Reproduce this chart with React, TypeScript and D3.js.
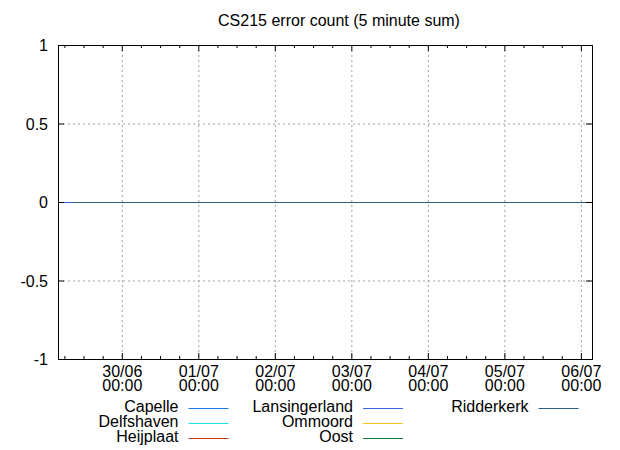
import { useMemo } from 'react';
import * as d3 from 'd3';

const title = 'CS215 error count (5 minute sum)';

const seriesNames = ['Capelle', 'Delfshaven', 'Heijplaat', 'Lansingerland', 'Ommoord', 'Oost', 'Ridderkerk'];
const seriesColors = ['#1a78e0', '#20e0f0', '#c04010', '#3a64e0', '#f8c020', '#108040', '#2e6088'];
const seriesStart = ['2024-06-29T08:30Z', '2024-06-29T08:30Z', '2024-06-29T08:30Z', '2024-06-29T03:50Z', '2024-06-29T08:30Z', '2024-06-29T08:30Z', '2024-06-29T08:30Z'];
const seriesEnd = ['2024-07-06T03:20Z', '2024-07-06T03:20Z', '2024-07-06T03:20Z', '2024-07-06T03:20Z', '2024-07-06T03:20Z', '2024-07-06T03:20Z', '2024-07-06T03:20Z'];
const seriesValues = [[0, 0], [0, 0], [0, 0], [0, 0], [0, 0], [0, 0], [0, 0]];

const xDomain = ['2024-06-29T03:50Z', '2024-07-06T03:20Z'];
const yDomain = [-1, 1];
const yTicks = [-1, -0.5, 0, 0.5, 1];

const W = 620;
const H = 450;
const margin = { top: 45, right: 28, bottom: 91, left: 58 };
const font = '"Liberation Sans", Arial, sans-serif';
const fs = 16;

export default function App() {
  const innerW = W - margin.left - margin.right;
  const innerH = H - margin.top - margin.bottom;

  const x = useMemo(
    () => d3.scaleUtc().domain(xDomain.map(d => new Date(d))).range([0, innerW]),
    [innerW]
  );
  const y = useMemo(() => d3.scaleLinear().domain(yDomain).range([innerH, 0]), [innerH]);

  const [x0, x1] = x.domain();
  const majorTicks = d3.utcDay.range(x0, x1);
  const minorTicks = d3.utcHour.every(6)!.range(x0, x1).filter(d => d.getUTCHours() !== 0);
  const fmtDate = d3.utcFormat('%d/%m');
  const fmtTime = d3.utcFormat('%H:%M');

  const line = d3.line<[Date, number]>()
    .x(d => x(d[0]))
    .y(d => y(d[1]));

  const series = seriesNames.map((name, i) => ({
    name,
    color: seriesColors[i],
    points: [
      [new Date(seriesStart[i]), seriesValues[i][0]],
      [new Date(seriesEnd[i]), seriesValues[i][1]],
    ] as [Date, number][],
  }));

  // legend: 3 columns, filled column by column
  const legendRows = 3;
  const colTextX = [178.5, 353, 528.5];
  const rowY = [408, 423, 438];

  return (
    <svg
      width={W}
      height={H}
      style={{ position: 'absolute', left: 0, top: 0, background: '#fff', fontFamily: font }}
    >
      <text x={W / 2 + 29} y={26} textAnchor="middle" fontSize={fs} fill="#000">{title}</text>
      <g transform={`translate(${margin.left},${margin.top})`}>
        {/* grid */}
        {majorTicks.map(d => (
          <line key={'gx' + +d} x1={x(d)} x2={x(d)} y1={0} y2={innerH}
            stroke="#a0a0a0" strokeDasharray="2,3" strokeWidth={1} />
        ))}
        {yTicks.filter(v => v !== yDomain[0] && v !== yDomain[1]).map(v => (
          <line key={'gy' + v} x1={0} x2={innerW} y1={y(v) + 0.5} y2={y(v) + 0.5}
            stroke="#a0a0a0" strokeDasharray="2,3" strokeWidth={1} />
        ))}

        {/* series */}
        {series.map(s => (
          <path key={s.name} d={line(s.points)!}
            transform="translate(0,0.5)"
            fill="none" stroke={s.color} strokeWidth={1} />
        ))}

        {/* ticks */}
        {majorTicks.map(d => (
          <g key={'tx' + +d}>
            <line x1={x(d)} x2={x(d)} y1={innerH} y2={innerH - 6} stroke="#000" />
            <line x1={x(d)} x2={x(d)} y1={0} y2={6} stroke="#000" />
            <text x={x(d)} y={innerH + 18} textAnchor="middle" fontSize={fs} fill="#000">{fmtDate(d)}</text>
            <text x={x(d)} y={innerH + 32} textAnchor="middle" fontSize={fs} fill="#000">{fmtTime(d)}</text>
          </g>
        ))}
        {minorTicks.map(d => (
          <g key={'mx' + +d}>
            <line x1={x(d)} x2={x(d)} y1={innerH} y2={innerH - 3} stroke="#000" />
            <line x1={x(d)} x2={x(d)} y1={0} y2={3} stroke="#000" />
          </g>
        ))}
        {yTicks.map(v => (
          <g key={'ty' + v}>
            <line x1={0} x2={6} y1={y(v) + 0.5} y2={y(v) + 0.5} stroke="#000" />
            <line x1={innerW} x2={innerW - 6} y1={y(v) + 0.5} y2={y(v) + 0.5} stroke="#000" />
            <text x={-10} y={y(v) + 6} textAnchor="end" fontSize={fs} fill="#000">{v}</text>
          </g>
        ))}

        <rect x={0.5} y={0.5} width={innerW} height={innerH} fill="none" stroke="#000" strokeWidth={1} />
      </g>

      {/* legend */}
      {series.map((s, i) => {
        const col = Math.floor(i / legendRows);
        const row = i % legendRows;
        const tx = colTextX[col];
        const ly = rowY[row];
        return (
          <g key={'lg' + s.name}>
            <text x={tx} y={ly + 4} textAnchor="end" fontSize={fs} fill="#000">{s.name}</text>
            <line x1={tx + 10} x2={tx + 50} y1={ly + 0.5} y2={ly + 0.5} stroke={s.color} strokeWidth={1} />
          </g>
        );
      })}
    </svg>
  );
}
